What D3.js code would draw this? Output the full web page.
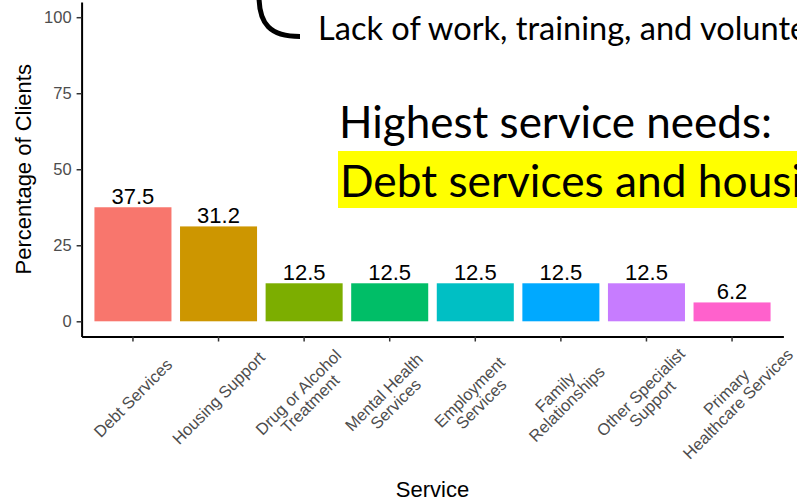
<!DOCTYPE html>
<html>
<head>
<meta charset="utf-8">
<script src="https://cdn.jsdelivr.net/npm/d3@7"></script>
<style>
  html, body { margin: 0; padding: 0; background: #ffffff; overflow: hidden; }
  svg { display: block; }
</style>
</head>
<body>
<svg id="chart" width="797" height="501"></svg>
<script>
// Service needs among clients (percentage)
const services = [
  "Debt Services",
  "Housing Support",
  "Drug or Alcohol\nTreatment",
  "Mental Health\nServices",
  "Employment\nServices",
  "Family\nRelationships",
  "Other Specialist\nSupport",
  "Primary\nHealthcare Services"
];
const percentages = [37.5, 31.2, 12.5, 12.5, 12.5, 12.5, 12.5, 6.2];
const barColors = ["#F8766D", "#CD9600", "#7CAE00", "#00BE67", "#00BFC4", "#00A9FF", "#C77CFF", "#FF61CC"];
const yTicks = [0, 25, 50, 75, 100];

const svg = d3.select("#chart");
const chartFont = "'Liberation Sans', Arial, sans-serif";
const slideFont = "Lato, 'Open Sans', sans-serif";

// Panel extents
const panelLeft = 81.6, panelRight = 783.4, panelTop = 2, panelBottom = 336.5;

const x = d3.scaleBand()
  .domain(services)
  .range([panelLeft, panelRight])
  .paddingInner(0.1)
  .paddingOuter(0.15);

const y = d3.scaleLinear()
  .domain([-5, 105])
  .range([panelBottom, panelTop]);

// Bars
svg.append("g")
  .selectAll("rect")
  .data(services)
  .join("rect")
  .attr("x", d => x(d))
  .attr("width", x.bandwidth())
  .attr("y", (d, i) => y(percentages[i]))
  .attr("height", (d, i) => y(0) - y(percentages[i]))
  .attr("fill", (d, i) => barColors[i]);

// Value labels
svg.append("g")
  .selectAll("text")
  .data(services)
  .join("text")
  .attr("x", d => x(d) + x.bandwidth() / 2)
  .attr("y", (d, i) => y(percentages[i]) - 3)
  .attr("text-anchor", "middle")
  .attr("font-family", chartFont)
  .attr("font-size", 22)
  .attr("fill", "#000")
  .text((d, i) => percentages[i].toFixed(1));

// Y axis
const yAxis = svg.append("g")
  .attr("transform", `translate(${panelLeft},0)`)
  .call(d3.axisLeft(y).tickValues(yTicks).tickSize(5).tickSizeOuter(0).tickPadding(5));
yAxis.select(".domain").attr("stroke", "#000").attr("stroke-width", 2);
yAxis.selectAll(".tick line").attr("stroke", "#333").attr("stroke-width", 1.5);
yAxis.selectAll(".tick text")
  .attr("font-family", chartFont)
  .attr("font-size", 16.5)
  .attr("fill", "#4D4D4D");

// X axis
const xAxis = svg.append("g")
  .attr("transform", `translate(0,${panelBottom})`)
  .call(d3.axisBottom(x).tickSize(5).tickSizeOuter(0).tickFormat(""));
xAxis.select(".domain").attr("stroke", "#000").attr("stroke-width", 2);
xAxis.selectAll(".tick line").attr("stroke", "#333").attr("stroke-width", 1.5);

// Rotated category labels
const pivotY = 398, lineH = 16.5;
services.forEach(s => {
  const cx = x(s) + x.bandwidth() / 2;
  const lines = s.split("\n");
  const t = svg.append("text")
    .attr("transform", `translate(${cx},${pivotY}) rotate(-45)`)
    .attr("text-anchor", "middle")
    .attr("font-family", chartFont)
    .attr("font-size", 16.5)
    .attr("fill", "#4D4D4D");
  lines.forEach((ln, k) => {
    t.append("tspan")
      .attr("x", 0)
      .attr("y", (k - (lines.length - 1) / 2) * lineH)
      .attr("dy", "0.35em")
      .text(ln);
  });
});

// Axis titles
svg.append("text")
  .attr("x", (panelLeft + panelRight) / 2)
  .attr("y", 497)
  .attr("text-anchor", "middle")
  .attr("font-family", chartFont)
  .attr("font-size", 22)
  .attr("fill", "#000")
  .text("Service");

svg.append("text")
  .attr("transform", `translate(31,${(panelTop + panelBottom) / 2}) rotate(-90)`)
  .attr("text-anchor", "middle")
  .attr("font-family", chartFont)
  .attr("font-size", 22)
  .attr("fill", "#000")
  .text("Percentage of Clients");

// Slide callouts over the chart
svg.append("path")
  .attr("d", "M259,-4 C259,24 270,36.5 300,36.5")
  .attr("fill", "none")
  .attr("stroke", "#000")
  .attr("stroke-width", 5);

svg.append("rect")
  .attr("x", 338)
  .attr("y", 151)
  .attr("width", 470)
  .attr("height", 57)
  .attr("fill", "#FFFF00");

// Size each callout line so that its leading words span the given width
function callout(str, prefixLen, xPos, baseY, prefixWidth) {
  const t = svg.append("text")
    .attr("x", xPos)
    .attr("y", baseY)
    .attr("font-family", slideFont)
    .attr("font-size", 30)
    .attr("fill", "#000")
    .text(str);
  const w = t.node().getSubStringLength(0, prefixLen);
  t.attr("font-size", 30 * prefixWidth / w);
  return t;
}

const line1 = "Lack of work, training, and volunteering";
callout(line1, "Lack of work, training, and ".length, 318, 40, 382);

const line2 = "Highest service needs:";
callout(line2, line2.length, 339, 138, 433);

const line3 = "Debt services and housing";
callout(line3, "Debt services and ".length, 340, 197, 358);
</script>
</body>
</html>
